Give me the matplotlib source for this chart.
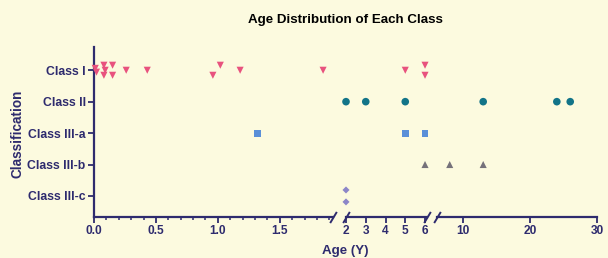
import numpy as np
import matplotlib
matplotlib.use("Agg")
import matplotlib.pyplot as plt

plt.rcParams['font.family'] = ['Liberation Sans', 'DejaVu Sans']

# ---------------- data ----------------
categories = ["Class I", "Class II", "Class III-a", "Class III-b", "Class III-c"]

class1_age = [0.01, 0.02, 0.08, 0.09, 0.08, 0.15, 0.15, 0.26, 0.43, 0.96, 1.02, 1.18, 1.85, 5, 6, 6]
class1_jit = [-0.06, 0.06, -0.16, 0.0, 0.16, -0.16, 0.16, 0.0, 0.0, 0.16, -0.16, 0.0, 0.0, 0.0, -0.16, 0.16]
class2_age = [2, 3, 5, 13, 24, 26]
class3a_age = [1.32, 5, 6]
class3b_age = [6, 8, 13]
class3c_age = [2, 2]
class3c_jit = [-0.19, 0.19]

seg_limits = [(0, 1.93), (2, 6.1), (6.1, 30)]
seg_ticks = [[0, 0.5, 1.0, 1.5], [2, 3, 4, 5, 6], [10, 20, 30]]
seg_ticklabels = [["0.0", "0.5", "1.0", "1.5"], ["2", "3", "4", "5", "6"], ["10", "20", "30"]]

# ---------------- style ----------------
bg = "#FCFADF"
navy = "#2E2B6E"
series = [
    (class1_age, class1_jit, 0, "v", "#E8527E", 26),
    (class2_age, [0] * len(class2_age), 1, "o", "#127488", 30),
    (class3a_age, [0] * len(class3a_age), 2, "s", "#5A8FD8", 24),
    (class3b_age, [0] * len(class3b_age), 3, "^", "#75717A", 26),
    (class3c_age, class3c_jit, 4, "D", "#8C86C8", 13),
]

fig = plt.figure(figsize=(6.08, 2.58), dpi=100, facecolor=bg)
W, H = 608, 258
bottom_px, top_px = 217, 47
seg_px = [(94, 333), (346, 427), (437, 597)]

axes = []
for i, ((l, r), lim) in enumerate(zip(seg_px, seg_limits)):
    ax = fig.add_axes([l / W, (H - bottom_px) / H, (r - l) / W, (bottom_px - top_px) / H])
    ax.set_facecolor(bg)
    ax.set_xlim(*lim)
    ax.set_ylim(4.67, -0.74)
    for s in ["top", "right"]:
        ax.spines[s].set_visible(False)
    ax.spines["bottom"].set_color(navy)
    ax.spines["bottom"].set_linewidth(1.6)
    ax.spines["left"].set_color(navy)
    ax.spines["left"].set_linewidth(1.6)
    if i > 0:
        ax.spines["left"].set_visible(False)
        ax.set_yticks([])
    else:
        ax.set_yticks(range(len(categories)))
        ax.set_yticklabels(categories, fontsize=8.8, fontweight="bold", color=navy)
        ax.set_xticks(np.arange(0, 1.93, 0.1), minor=True)
    ax.set_xticks(seg_ticks[i])
    ax.set_xticklabels(seg_ticklabels[i], fontsize=8.6, fontweight="bold", color=navy)
    ax.tick_params(axis="both", which="major", color=navy, width=1.3, length=4, pad=2)
    ax.tick_params(axis="x", which="minor", color=navy, width=1.1, length=2.5)

    for ages, jit, yi, mk, col, sz in series:
        a = np.array(ages, dtype=float)
        j = np.array(jit, dtype=float)
        m = (a >= lim[0] - 1e-9) & (a <= lim[1] + 1e-9)
        if m.any():
            ax.scatter(a[m], yi + j[m], marker=mk, s=sz,
                       color=col, edgecolors="none", clip_on=False, zorder=3)
    axes.append(ax)

# break marks
slash = [(-0.6, -1), (0.6, 1)]
for ax, pos in [(axes[0], 1.0), (axes[1], 0.0), (axes[1], 1.0), (axes[2], 0.0)]:
    ax.plot([pos], [0], transform=ax.transAxes, marker=slash, markersize=8,
            linestyle="none", color=navy, mec=navy, mew=1.4, clip_on=False, zorder=5)

fig.text(345 / W, 1 - 20 / H, "Age Distribution of Each Class", ha="center", va="center",
         fontsize=9.6, fontweight="bold", color="black")
fig.text(345 / W, 1 - 251 / H, "Age (Y)", ha="center", va="center",
         fontsize=9.6, fontweight="bold", color=navy)
fig.text(18 / W, 1 - 134 / H, "Classification", ha="center", va="center", rotation=90,
         fontsize=9.8, fontweight="bold", color=navy)

fig.savefig("out.png", dpi=100, facecolor=bg)
